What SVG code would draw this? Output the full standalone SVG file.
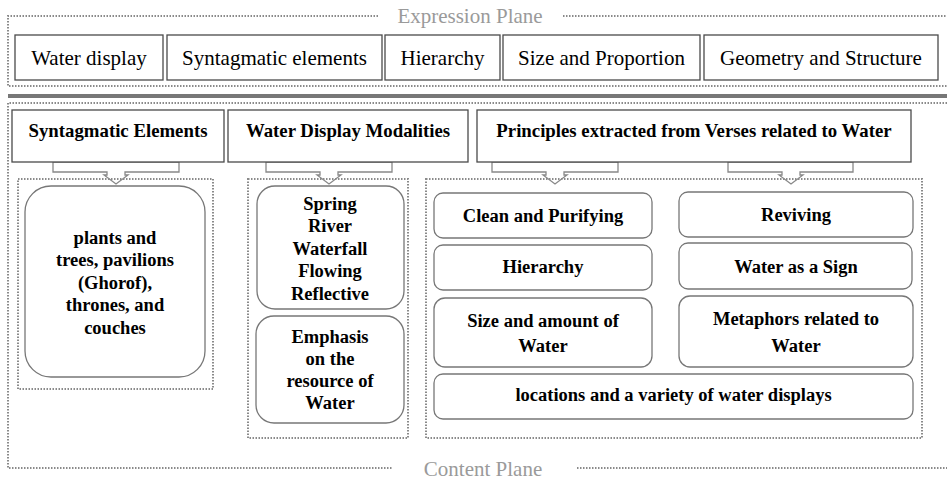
<svg xmlns="http://www.w3.org/2000/svg" width="947" height="482" viewBox="0 0 947 482">
<style>
text{font-family:"Liberation Serif","Times New Roman",Times,serif}
.plane{fill:none;stroke:#8a8a8a;stroke-width:2;stroke-dasharray:1.5 1.5}
.ptxt{font-size:21px;fill:#9a9a9a;text-anchor:middle}
.sq{fill:#fff;stroke:#4a4a4a;stroke-width:1.3}
.ttl{font-size:21px;fill:#000;text-anchor:middle}
.hd{font-size:18.8px;font-weight:bold;fill:#000;text-anchor:middle}
.bx{font-size:18.5px;font-weight:bold;fill:#000;text-anchor:middle}
.rb{fill:#fff;stroke:#777;stroke-width:1.3}
.ct{fill:none;stroke:#8a8a8a;stroke-width:2;stroke-dasharray:1.5 1.5}
.arr{fill:#fff;stroke:#888;stroke-width:1.3}
</style>

<g id="expression-plane">
<polyline class="plane" points="378,16 8,16 8,86 947,86"/>
<line class="plane" x1="563" y1="16" x2="947" y2="16"/>
<text class="ptxt" x="470" y="23">Expression Plane</text>
</g>
<line x1="8" y1="96" x2="947" y2="96" stroke="#777" stroke-width="4"/>
<g id="content-plane">
<polyline class="plane" points="947,103 8,103 8,468 392,468"/>
<line class="plane" x1="577" y1="468" x2="947" y2="468"/>
<text class="ptxt" x="483" y="476">Content Plane</text>
</g>

<g id="e-water-display"><rect class="sq" x="15" y="35" width="148" height="45"/><text class="ttl" x="89" y="64.5">Water display</text></g>
<g id="e-syntagmatic"><rect class="sq" x="167" y="35" width="215" height="45"/><text class="ttl" x="274.5" y="64.5">Syntagmatic elements</text></g>
<g id="e-hierarchy"><rect class="sq" x="385" y="35" width="115" height="45"/><text class="ttl" x="442.5" y="64.5">Hierarchy</text></g>
<g id="e-size"><rect class="sq" x="503" y="35" width="197" height="45"/><text class="ttl" x="601.5" y="64.5">Size and Proportion</text></g>
<g id="e-geometry"><rect class="sq" x="704" y="35" width="234" height="45"/><text class="ttl" x="821" y="64.5">Geometry and Structure</text></g>

<g id="connectors">
<polygon class="arr" points="53,162 53,172 107,172 107,175 104,175 116,184 128,175 125,175 125,172 179,172 179,162"/>
<polygon class="arr" points="266,162 266,172 320,172 320,175 317,175 329,184 341,175 338,175 338,172 392,172 392,162"/>
<polygon class="arr" points="492,162 492,172 546,172 546,175 543,175 555,184 567,175 564,175 564,172 618,172 618,162"/>
<polygon class="arr" points="728,162 728,172 782,172 782,175 779,175 791,184 803,175 800,175 800,172 853,172 853,162"/>
</g>

<g id="h-syntagmatic"><rect class="sq" x="12" y="110" width="212" height="52"/><text class="hd" x="118" y="137">Syntagmatic Elements</text></g>
<g id="h-modalities"><rect class="sq" x="228" y="110" width="240" height="52"/><text class="hd" x="348" y="137">Water Display Modalities</text></g>
<g id="h-principles"><rect class="sq" x="477" y="110" width="434" height="52"/><text class="hd" x="694" y="137">Principles extracted from Verses related to Water</text></g>

<g id="c-syntagmatic">
<rect class="ct" x="18" y="179" width="195" height="210"/>
<rect class="rb" x="25" y="186" width="180" height="191" rx="26"/>
<text class="bx" x="115" y="243.5">plants and</text>
<text class="bx" x="115" y="266">trees, pavilions</text>
<text class="bx" x="115" y="288.5">(Ghorof),</text>
<text class="bx" x="115" y="311">thrones, and</text>
<text class="bx" x="115" y="333.5">couches</text>
</g>

<g id="c-modalities">
<rect class="ct" x="248" y="179" width="160" height="259"/>
</g>
<g id="n-types">
<rect class="rb" x="257" y="186" width="147" height="123" rx="18"/>
<text class="bx" x="330" y="209.5">Spring</text>
<text class="bx" x="330" y="232">River</text>
<text class="bx" x="330" y="254.5">Waterfall</text>
<text class="bx" x="330" y="277">Flowing</text>
<text class="bx" x="330" y="299.5">Reflective</text>
</g>
<g id="n-emphasis">
<rect class="rb" x="256" y="316" width="148" height="107" rx="18"/>
<text class="bx" x="330" y="343">Emphasis</text>
<text class="bx" x="330" y="365">on the</text>
<text class="bx" x="330" y="387">resource of</text>
<text class="bx" x="330" y="409">Water</text>
</g>

<g id="c-principles"><rect class="ct" x="426" y="179" width="496" height="259"/></g>
<g id="n-clean"><rect class="rb" x="434" y="193" width="218" height="45" rx="9"/><text class="bx" x="543" y="221.5">Clean and Purifying</text></g>
<g id="n-reviving"><rect class="rb" x="679" y="192" width="234" height="45" rx="9"/><text class="bx" x="796" y="220.5">Reviving</text></g>
<g id="n-hierarchy"><rect class="rb" x="434" y="245" width="218" height="45" rx="9"/><text class="bx" x="543" y="273">Hierarchy</text></g>
<g id="n-sign"><rect class="rb" x="679" y="243" width="233" height="46" rx="9"/><text class="bx" x="796" y="273">Water as a Sign</text></g>
<g id="n-size"><rect class="rb" x="434" y="298" width="218" height="69" rx="11"/><text class="bx" x="543" y="327">Size and amount of</text><text class="bx" x="543" y="351.5">Water</text></g>
<g id="n-metaphors"><rect class="rb" x="679" y="296" width="234" height="71" rx="11"/><text class="bx" x="796" y="325">Metaphors related to</text><text class="bx" x="796" y="351.5">Water</text></g>
<g id="n-locations"><rect class="rb" x="434" y="374" width="479" height="45" rx="9"/><text class="bx" x="673.5" y="401">locations and a variety of water displays</text></g>
</svg>
